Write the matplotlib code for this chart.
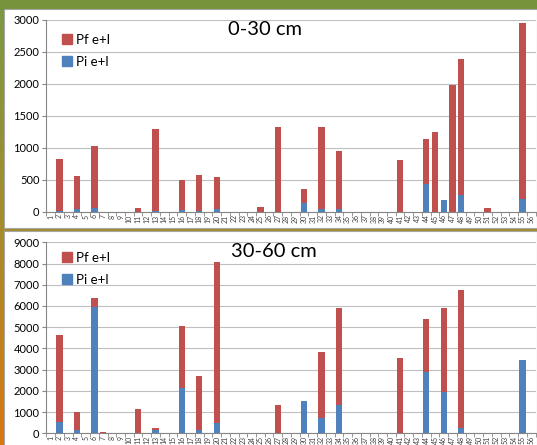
import numpy as np
import matplotlib
matplotlib.use('Agg')
import matplotlib.pyplot as plt
from matplotlib.patches import Patch, Rectangle
from matplotlib.colors import LinearSegmentedColormap

plt.rcParams['font.family'] = ['Lato', 'DejaVu Sans']

# samples 1..56, values (missing sample = 0)
samples = list(range(1, 57))

# 0-30 cm
pi_top = {2: 15, 4: 37, 6: 52, 13: 15, 16: 20, 18: 15, 20: 40, 30: 130, 32: 47,
          34: 50, 44: 430, 46: 185, 48: 260, 55: 200}
pf_top = {2: 815, 4: 523, 6: 978, 11: 55, 13: 1275, 16: 470, 18: 555, 20: 510,
          25: 75, 27: 1320, 30: 220, 32: 1283, 34: 900, 41: 810, 44: 715,
          45: 1250, 47: 1985, 48: 2130, 51: 55, 55: 2760}

# 30-60 cm
pi_bot = {2: 520, 4: 150, 6: 5930, 13: 150, 16: 2150, 18: 150, 20: 500,
          30: 1500, 32: 720, 34: 1320, 44: 2870, 46: 1930, 48: 270, 55: 3440}
pf_bot = {2: 4110, 4: 870, 6: 440, 7: 60, 11: 1140, 13: 120, 16: 2900, 18: 2550,
          20: 7560, 27: 1320, 32: 3110, 34: 4570, 41: 3530, 44: 2520, 46: 3975,
          48: 6470}

red = '#C0504D'
blue = '#4F81BD'

fig = plt.figure(figsize=(5.37, 4.45), dpi=100)

# background: slide frame gradient (green top -> orange bottom)
bg = fig.add_axes([0, 0, 1, 1], zorder=-10)
grad = np.linspace(0, 1, 256).reshape(-1, 1)
cmap = LinearSegmentedColormap.from_list('frame', ['#7A9A42', '#A58C2C', '#DA7810'])
bg.imshow(grad, aspect='auto', extent=[0, 1, 0, 1], cmap=cmap, origin='upper')
bg.add_patch(Rectangle((0, 1 - 9 / 445), 1, 9 / 445, color='#77933C', transform=bg.transAxes))
bg.add_patch(Rectangle((4 / 537, 217 / 445), 533 / 537, 219 / 445, facecolor='white',
                       edgecolor='#A6A6A6', lw=0.8, transform=bg.transAxes))
bg.add_patch(Rectangle((4 / 537, -0.01), 533 / 537, 214 / 445 + 0.01, facecolor='white',
                       edgecolor='#A6A6A6', lw=0.8, transform=bg.transAxes))
bg.set_xlim(0, 1)
bg.set_ylim(0, 1)
bg.axis('off')


def panel(rect, pi, pf, ymax, step, title, tx, ty, leg_y):
    ax = fig.add_axes(rect)
    ax.set_facecolor('none')
    pi_v = np.array([pi.get(s, 0) for s in samples])
    pf_v = np.array([pf.get(s, 0) for s in samples])
    ax.bar(samples, pi_v, width=0.72, color=blue, label='Pi e+l', zorder=3)
    ax.bar(samples, pf_v, width=0.72, bottom=pi_v, color=red, label='Pf e+l', zorder=3)
    ax.set_xlim(0.5, 56.5)
    ax.set_ylim(0, ymax)
    ax.set_yticks(np.arange(0, ymax + 1, step))
    ax.set_xticks(samples)
    ax.set_xticklabels([str(s) for s in samples], rotation=90, fontsize=5, color='#404040')
    ax.set_xticks(np.arange(0.5, 57, 1), minor=True)
    ax.tick_params(axis='x', which='major', length=0, pad=2)
    ax.tick_params(axis='x', which='minor', length=3, color='#868686')
    ax.tick_params(axis='y', length=3, color='#868686', labelsize=8, labelcolor='black', pad=2)
    ax.yaxis.grid(True, color='#BFBFBF', lw=0.8, zorder=0)
    ax.set_axisbelow(True)
    for side in ['top', 'right']:
        ax.spines[side].set_visible(False)
    for side in ['left', 'bottom']:
        ax.spines[side].set_color('#868686')
        ax.spines[side].set_linewidth(0.8)
    handles = [Patch(color=red, label='Pf e+l'), Patch(color=blue, label='Pi e+l')]
    ax.legend(handles=handles, loc='upper left', bbox_to_anchor=(0.008, leg_y), frameon=False,
              fontsize=9.5, handlelength=0.75, handleheight=0.75, handletextpad=0.3,
              labelspacing=0.75)
    ax.text(tx, ty, title, transform=ax.transAxes, fontsize=14.5, ha='center', va='center')
    return ax


panel([46.4 / 537, 233.3 / 445, 489.1 / 537, 191.7 / 445], pi_top, pf_top, 3000, 500,
      '0-30 cm', 0.447, 0.948, 0.99)
panel([46.4 / 537, 11.7 / 445, 489.1 / 537, 191.0 / 445], pi_bot, pf_bot, 9000, 1000,
      '30-60 cm', 0.465, 0.951, 1.012)

fig.savefig('out.png', dpi=100)
